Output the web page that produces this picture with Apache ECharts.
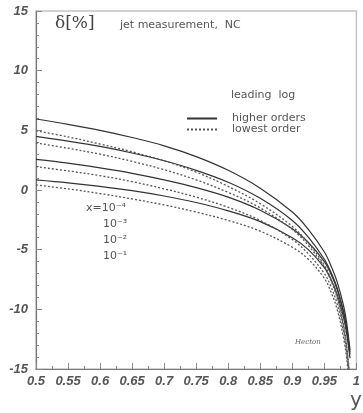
<!DOCTYPE html>
<html>
<head>
<meta charset="utf-8">
<script src="https://cdn.jsdelivr.net/npm/echarts@6/dist/echarts.min.js"></script>
<style>html,body{margin:0;padding:0;background:#fff}#c{width:363px;height:413px}</style>
</head>
<body>
<div id="c"></div>
<script>
// y (inelasticity) sample points
var yVals = [0.5, 0.55, 0.6, 0.65, 0.7, 0.75, 0.8, 0.85, 0.9, 0.925, 0.95, 0.96, 0.97, 0.98, 0.985, 0.99];
// higher orders (solid), x = 1e-4, 1e-3, 1e-2, 1e-1
var hoX4 = [5.95, 5.5, 5.0, 4.4, 3.7, 2.8, 1.65, 0.15, -1.85, -3.3, -5.2, -6.3, -7.7, -9.7, -11.2, -13.4];
var hoX3 = [4.5, 4.1, 3.65, 3.1, 2.45, 1.65, 0.65, -0.7, -2.55, -3.95, -5.8, -6.85, -8.2, -10.2, -11.6, -13.6];
var hoX2 = [2.57, 2.25, 1.85, 1.4, 0.85, 0.2, -0.6, -1.7, -3.25, -4.4, -6.0, -7.0, -8.35, -10.3, -11.7, -13.8];
var hoX1 = [0.85, 0.6, 0.3, -0.05, -0.5, -1.05, -1.75, -2.65, -4.0, -5.0, -6.5, -7.45, -8.75, -10.7, -12.1, -14.1];
// lowest order (dotted)
var loX4 = [4.97, 4.45, 3.85, 3.2, 2.45, 1.5, 0.3, -1.15, -3.05, -4.45, -6.3, -7.4, -8.9, -11.3, -13.1, -15.8];
var loX3 = [3.95, 3.5, 3.0, 2.4, 1.7, 0.85, -0.2, -1.5, -3.3, -4.65, -6.45, -7.55, -9.05, -11.5, -13.3, -16.0];
var loX2 = [1.95, 1.6, 1.2, 0.7, 0.1, -0.6, -1.45, -2.55, -4.15, -5.35, -7.0, -8.05, -9.55, -11.9, -13.7, -16.4];
var loX1 = [0.42, 0.1, -0.3, -0.75, -1.25, -1.85, -2.55, -3.45, -4.8, -5.8, -7.4, -8.5, -10.0, -12.4, -14.2, -17.0];
var xTicks = ['0.5','0.55','0.6','0.65','0.7','0.75','0.8','0.85','0.9','0.95','1'];
var yTicks = ['-15','-10','-5','0','5','10','15'];

function pts(vals){ return yVals.map(function(y,i){ return [y, vals[i]]; }); }
function mk(name, vals, dotted){
  return {
    name: name, type: 'line', data: pts(vals), smooth: 0.35, symbol: 'none', clip: true,
    lineStyle: {color: dotted ? '#555' : '#333', width: dotted ? 1.3 : 1.2, type: dotted ? [2, 2] : 'solid'},
    itemStyle: {color: dotted ? '#555' : '#333'}
  };
}
var chart = echarts.init(document.getElementById('c'), null, {renderer: 'canvas'});
var labFont = {fontFamily: 'Liberation Sans', fontStyle: 'italic', fontWeight: 'bold', fontSize: 13, color: '#555'};
chart.setOption({
  animation: false,
  backgroundColor: '#fff',
  grid: {left: 36, right: 4, top: 11, bottom: 44, show: true, borderColor: '#c4c4c4', borderWidth: 1.5},
  legend: {
    data: ['higher orders', 'lowest order'], orient: 'vertical', left: 181, top: 108,
    itemWidth: 30, itemHeight: 6, itemGap: 0,
    itemStyle: {opacity: 0},
    textStyle: {fontFamily: 'DejaVu Sans', fontSize: 11, color: '#555', lineHeight: 9, padding: [0, 0, 0, 10]}
  },
  xAxis: {
    type: 'value', min: 0.5, max: 1, interval: 0.05,
    axisLine: {onZero: false, lineStyle: {color: '#777', width: 1.2}},
    axisTick: {inside: true, length: 6, lineStyle: {color: '#888'}},
    minorTick: {show: true, splitNumber: 2, length: 3, lineStyle: {color: '#888'}},
    splitLine: {show: false},
    axisLabel: Object.assign({margin: 6, formatter: function(v){ var i = Math.round((v - 0.5) / 0.05); return xTicks[i]; }}, labFont)
  },
  yAxis: {
    type: 'value', min: -15, max: 15, interval: 5,
    axisLine: {show: true, onZero: false, lineStyle: {color: '#777', width: 1.2}},
    axisTick: {show: true, inside: true, length: 6, lineStyle: {color: '#888'}},
    minorTick: {show: true, splitNumber: 5, length: 3, lineStyle: {color: '#888'}},
    splitLine: {show: false},
    axisLabel: Object.assign({margin: 8, formatter: function(v){ return yTicks[Math.round((v + 15) / 5)]; }}, labFont)
  },
  graphic: [
    {type: 'text', left: 55, top: 15, style: {text: 'δ[%]', font: '17px "DejaVu Serif"', fill: '#444'}},
    {type: 'text', left: 120, top: 20, style: {text: 'jet measurement,  NC', font: '11px "DejaVu Sans"', fill: '#555'}},
    {type: 'text', left: 231, top: 90, style: {text: 'leading  log', font: '11px "DejaVu Sans"', fill: '#555'}},
    {type: 'text', left: 86, top: 203, style: {text: 'x=10⁻⁴', font: '11px "DejaVu Sans"', fill: '#555'}},
    {type: 'text', left: 103, top: 219, style: {text: '10⁻³', font: '11px "DejaVu Sans"', fill: '#555'}},
    {type: 'text', left: 103, top: 235, style: {text: '10⁻²', font: '11px "DejaVu Sans"', fill: '#555'}},
    {type: 'text', left: 103, top: 251, style: {text: '10⁻¹', font: '11px "DejaVu Sans"', fill: '#555'}},
    {type: 'text', left: 295, top: 339, style: {text: 'Hecton', font: 'italic 7px "DejaVu Serif"', fill: '#666'}},
    {type: 'text', left: 350, top: 391, style: {text: 'y', font: '20px "DejaVu Sans"', fill: '#555'}}
  ],
  series: [
    mk('higher orders', hoX4, false), mk('higher orders', hoX3, false),
    mk('higher orders', hoX2, false), mk('higher orders', hoX1, false),
    mk('lowest order', loX4, true), mk('lowest order', loX3, true),
    mk('lowest order', loX2, true), mk('lowest order', loX1, true)
  ]
});
</script>
</body>
</html>
